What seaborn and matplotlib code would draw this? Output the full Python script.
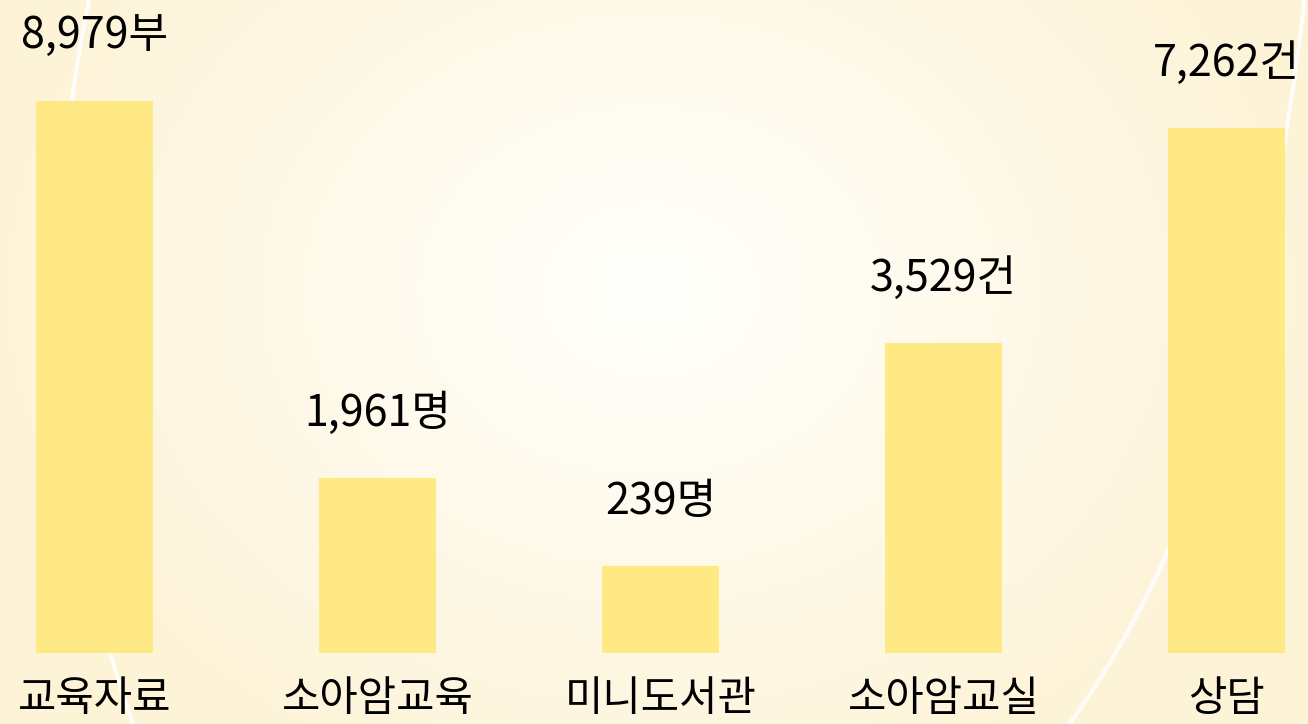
import numpy as np
import pandas as pd
import matplotlib
matplotlib.use("Agg")
import matplotlib.pyplot as plt
import seaborn as sns

# data
categories = ["교육자료", "소아암교육", "미니도서관", "소아암교실", "상담"]
value_labels = ["8,979부", "1,961명", "239명", "3,529건", "7,262건"]
bar_heights = [552, 175, 87, 310, 525]  # drawn height of each bar (chart units)

df = pd.DataFrame({"category": categories, "height": bar_heights, "label": value_labels})

sns.set_theme(style="white")
plt.rcParams["font.family"] = ["Noto Sans CJK KR", "DejaVu Sans"]

W, H = 1308, 724
fig = plt.figure(figsize=(W / 100, H / 100), dpi=100)

# background: soft radial gradient with a couple of white swooshes
bg = fig.add_axes([0, 0, 1, 1])
yy, xx = np.mgrid[0:H, 0:W]
r = np.sqrt(((xx - 650) / 700.0) ** 2 + ((yy - 290) / 560.0) ** 2)
r = np.clip(r, 0, 1)
c_in = np.array([255, 255, 252]) / 255
c_out = np.array([253, 243, 214]) / 255
img = c_in[None, None, :] * (1 - r[..., None]) + c_out[None, None, :] * r[..., None]
bg.imshow(img, extent=[0, W, H, 0], aspect="auto")
t = np.linspace(0, 1, 200)
p0, p1, p2 = np.array([90, -5]), np.array([10, 380]), np.array([135, 730])
curve = (1 - t)[:, None] ** 2 * p0 + 2 * (1 - t)[:, None] * t[:, None] * p1 + t[:, None] ** 2 * p2
bg.plot(curve[:, 0], curve[:, 1], color="white", lw=3, alpha=0.9)
p0, p1, p2 = np.array([1065, 730]), np.array([1250, 480]), np.array([1305, -5])
curve = (1 - t)[:, None] ** 2 * p0 + 2 * (1 - t)[:, None] * t[:, None] * p1 + t[:, None] ** 2 * p2
bg.plot(curve[:, 0], curve[:, 1], color="white", lw=3, alpha=0.9)
bg.set_xlim(0, W)
bg.set_ylim(H, 0)
bg.axis("off")

# bar chart
ax = fig.add_axes([0, (H - 653) / H, 1, 653 / H])
ax.patch.set_alpha(0)
sns.barplot(data=df, x="category", y="height", color="#FFE985", saturation=1,
            width=0.413, linewidth=0, edgecolor="none", ax=ax)
step = 283
ax.set_xlim(-94.5 / step, (W - 94.5) / step)
ax.set_ylim(0, 653)

for i, row in df.iterrows():
    ax.text(i, row["height"] + 64, row["label"], ha="center", va="center",
            fontsize=31, color="black")
    ax.text(i, -46, row["category"], ha="center", va="center",
            fontsize=30, color="black", clip_on=False)

ax.set_xlabel("")
ax.set_ylabel("")
ax.set_xticks([])
ax.set_yticks([])
sns.despine(ax=ax, left=True, bottom=True)

fig.savefig("out.png", dpi=100)
